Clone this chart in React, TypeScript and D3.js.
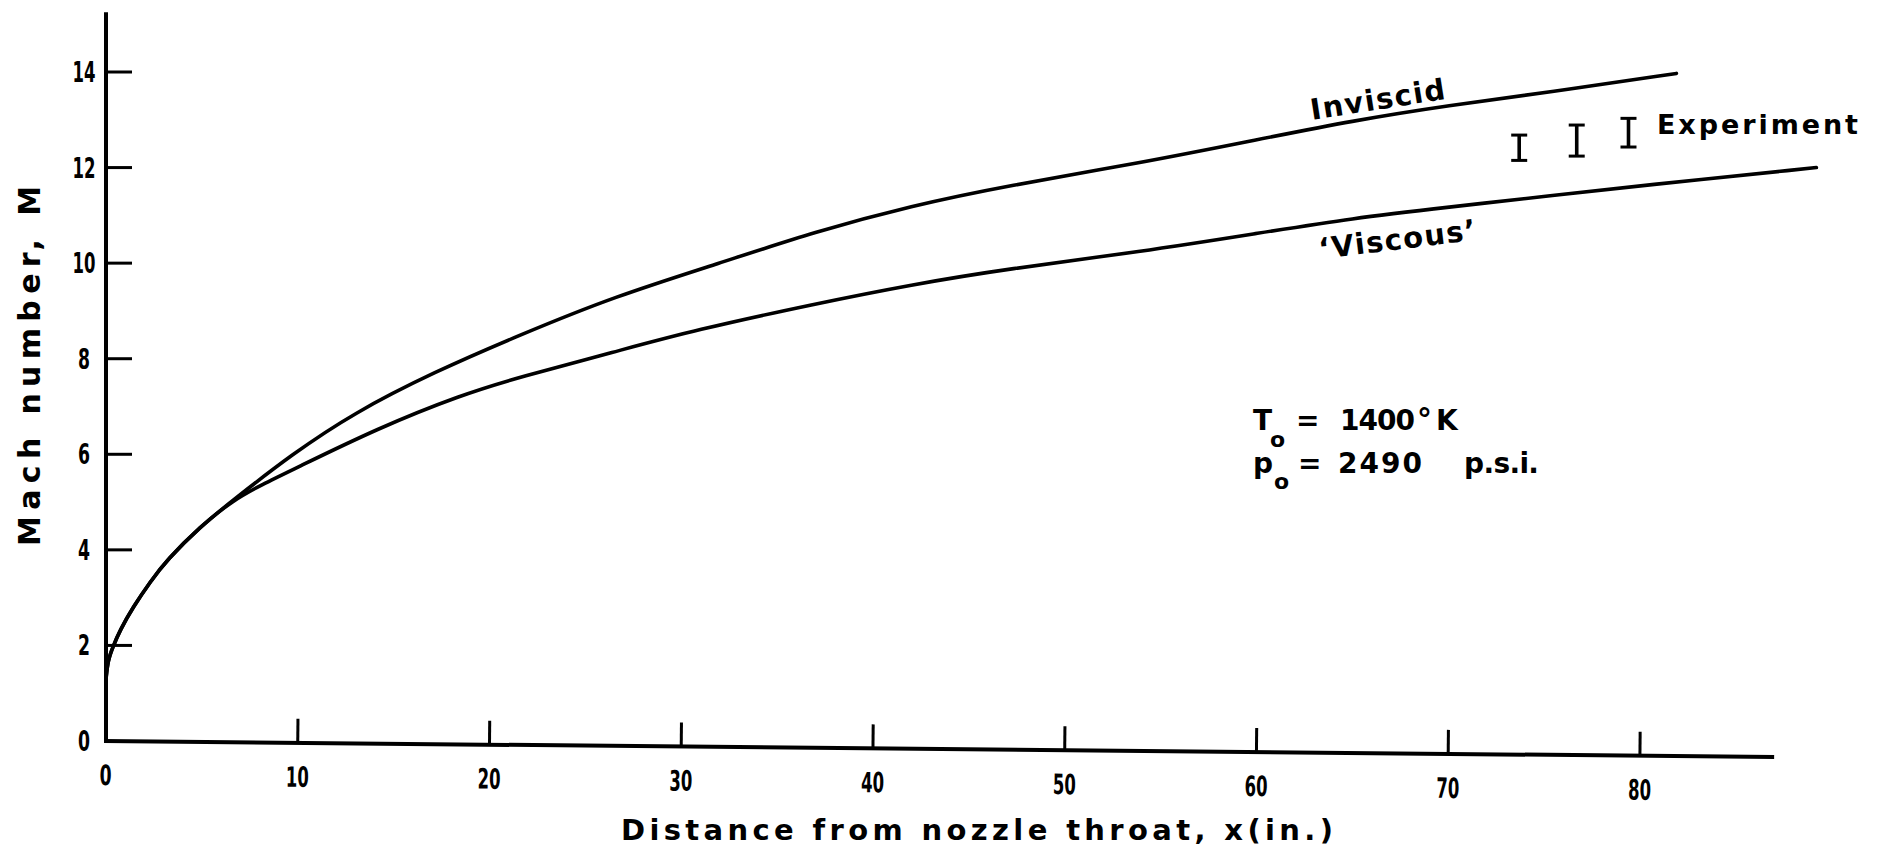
import React from "react";
import * as d3 from "d3";

// Mach number along the nozzle: inviscid vs. 'viscous' prediction, with experiment
const xTicks = [0, 10, 20, 30, 40, 50, 60, 70, 80];
const yTicks = [0, 2, 4, 6, 8, 10, 12, 14];

// distance from throat (in.), Mach number
const inviscid: [number, number][] = [
  [0, 1.3], [0.1, 1.69], [0.36, 1.97], [0.73, 2.32], [1.41, 2.8], [2.3, 3.33],
  [3.18, 3.79], [4.9, 4.48], [6.62, 5.04], [9.7, 6.0], [12.9, 6.86], [17.1, 7.72],
  [21.6, 8.5], [26.5, 9.3], [32, 10.0], [37, 10.66], [42, 11.2], [47, 11.62],
  [54, 12.1], [60, 12.58], [65, 12.98], [70, 13.3], [75.3, 13.58], [81.9, 13.97],
];

const viscous: [number, number][] = [
  [0, 1.3], [0.1, 1.69], [0.36, 1.97], [0.73, 2.32], [1.41, 2.8], [2.3, 3.33],
  [3.18, 3.79], [4.9, 4.48], [6.62, 5.04], [8.2, 5.38], [9.7, 5.67], [14.2, 6.55],
  [18.5, 7.24], [21.6, 7.62], [26.5, 8.14], [30.7, 8.6], [37, 9.15], [42, 9.55],
  [47, 9.88], [54, 10.24], [60, 10.62], [65, 10.94], [70, 11.17], [75.3, 11.41],
  [80, 11.62], [89.2, 12.0],
];

const experimentX = [73.7, 76.7, 79.4];
const experimentLow = [12.15, 12.24, 12.43];
const experimentHigh = [12.68, 12.89, 13.03];

const xAxisEnd = 87;
const yAxisEnd = 15.25;

const LETTER = "'DejaVu Sans', sans-serif";
const INK = "#000";

export default function App() {
  const x = d3.scaleLinear().domain([0, 80]).range([106, 1640]);
  const y = d3.scaleLinear().domain([0, 14]).range([741, 72]);

  const line = d3
    .line<[number, number]>()
    .x((d) => x(d[0]))
    .y((d) => y(d[1]))
    .curve(d3.curveBasis);

  const x0 = x(0);
  const y0 = y(0);

  const textStyle: React.CSSProperties = {
    fontFamily: LETTER,
    fontWeight: "bold",
    fill: INK,
  };

  // narrow lettering for the tick numbers
  const tickWidth = (t: number) => (String(t).length > 1 ? 23 : 12);

  return (
    <svg
      width={1883}
      height={855}
      style={{ position: "absolute", left: 0, top: 0, background: "#fff" }}
    >
      <rect width={1883} height={855} fill="#fff" />

      {/* y axis */}
      <line x1={x0} y1={y0} x2={x0} y2={y(yAxisEnd)} stroke={INK} strokeWidth={4} />
      {yTicks.map((t) => (
        <g key={"yt" + t}>
          {t > 0 && (
            <line x1={x0} x2={x0 + 26} y1={y(t)} y2={y(t)} stroke={INK} strokeWidth={3} />
          )}
          <text
            x={84 - tickWidth(t) / 2}
            y={y(t) + 10}
            fontSize={28}
            textLength={tickWidth(t)}
            lengthAdjust="spacingAndGlyphs"
            style={textStyle}
          >
            {t}
          </text>
        </g>
      ))}
      <text
        transform={`translate(40, 366) rotate(-90)`}
        textAnchor="middle"
        fontSize={30}
        textLength={360}
        lengthAdjust="spacing"
        style={textStyle}
      >
        Mach number, M
      </text>

      {/* x axis, drawn with the slight slope of the original sheet */}
      <g transform={`rotate(0.55, ${x0}, ${y0})`}>
        <line x1={x0 - 2} y1={y0} x2={x(xAxisEnd)} y2={y0} stroke={INK} strokeWidth={4} />
        {xTicks.map((t) => (
          <g key={"xt" + t}>
            {t > 0 && (
              <line x1={x(t)} x2={x(t)} y1={y0} y2={y0 - 24} stroke={INK} strokeWidth={3} />
            )}
            <text
              x={x(t) - tickWidth(t) / 2}
              y={y0 + 44}
              fontSize={28}
              textLength={tickWidth(t)}
              lengthAdjust="spacingAndGlyphs"
              style={textStyle}
            >
              {t}
            </text>
          </g>
        ))}
      </g>
      <text
        x={621}
        y={840}
        fontSize={29}
        textLength={712}
        lengthAdjust="spacing"
        style={textStyle}
      >
        Distance from nozzle throat, x(in.)
      </text>

      {/* curves */}
      <path d={line(inviscid) ?? ""} fill="none" stroke={INK} strokeWidth={3.6} strokeLinecap="round" />
      <path d={line(viscous) ?? ""} fill="none" stroke={INK} strokeWidth={3.6} strokeLinecap="round" />

      {/* experiment range bars */}
      {experimentX.map((ex, i) => {
        const cx = x(ex);
        const top = y(experimentHigh[i]);
        const bot = y(experimentLow[i]);
        return (
          <g key={"ex" + i} stroke={INK}>
            <line x1={cx} x2={cx} y1={top} y2={bot} strokeWidth={3.6} />
            <line x1={cx - 8} x2={cx + 8} y1={top} y2={top} strokeWidth={3} />
            <line x1={cx - 8} x2={cx + 8} y1={bot} y2={bot} strokeWidth={3} />
          </g>
        );
      })}

      {/* labels */}
      <text
        x={1312}
        y={120}
        transform="rotate(-9, 1312, 120)"
        fontSize={29}
        textLength={136}
        lengthAdjust="spacing"
        style={textStyle}
      >
        Inviscid
      </text>
      <text
        x={1320}
        y={259}
        transform="rotate(-7, 1320, 259)"
        fontSize={29}
        textLength={158}
        lengthAdjust="spacing"
        style={textStyle}
      >
        ‘Viscous’
      </text>
      <text
        x={1657}
        y={134}
        fontSize={27}
        textLength={201}
        lengthAdjust="spacing"
        style={textStyle}
      >
        Experiment
      </text>

      {/* stagnation conditions */}
      <text y={430} fontSize={28} style={textStyle}>
        <tspan x={1253}>T</tspan>
        <tspan x={1270} y={447} fontSize={22}>o</tspan>
        <tspan x={1296} y={430}>=</tspan>
        <tspan x={1340} textLength={75} lengthAdjust="spacing">1400</tspan>
        <tspan x={1417} fontSize={30}>°</tspan>
        <tspan x={1436}>K</tspan>
      </text>
      <text y={473} fontSize={28} style={textStyle}>
        <tspan x={1253}>p</tspan>
        <tspan x={1274} y={489} fontSize={22}>o</tspan>
        <tspan x={1298} y={473}>=</tspan>
        <tspan x={1338} textLength={84} lengthAdjust="spacing">2490</tspan>
        <tspan x={1464} textLength={75} lengthAdjust="spacing">p.s.i.</tspan>
      </text>
    </svg>
  );
}
